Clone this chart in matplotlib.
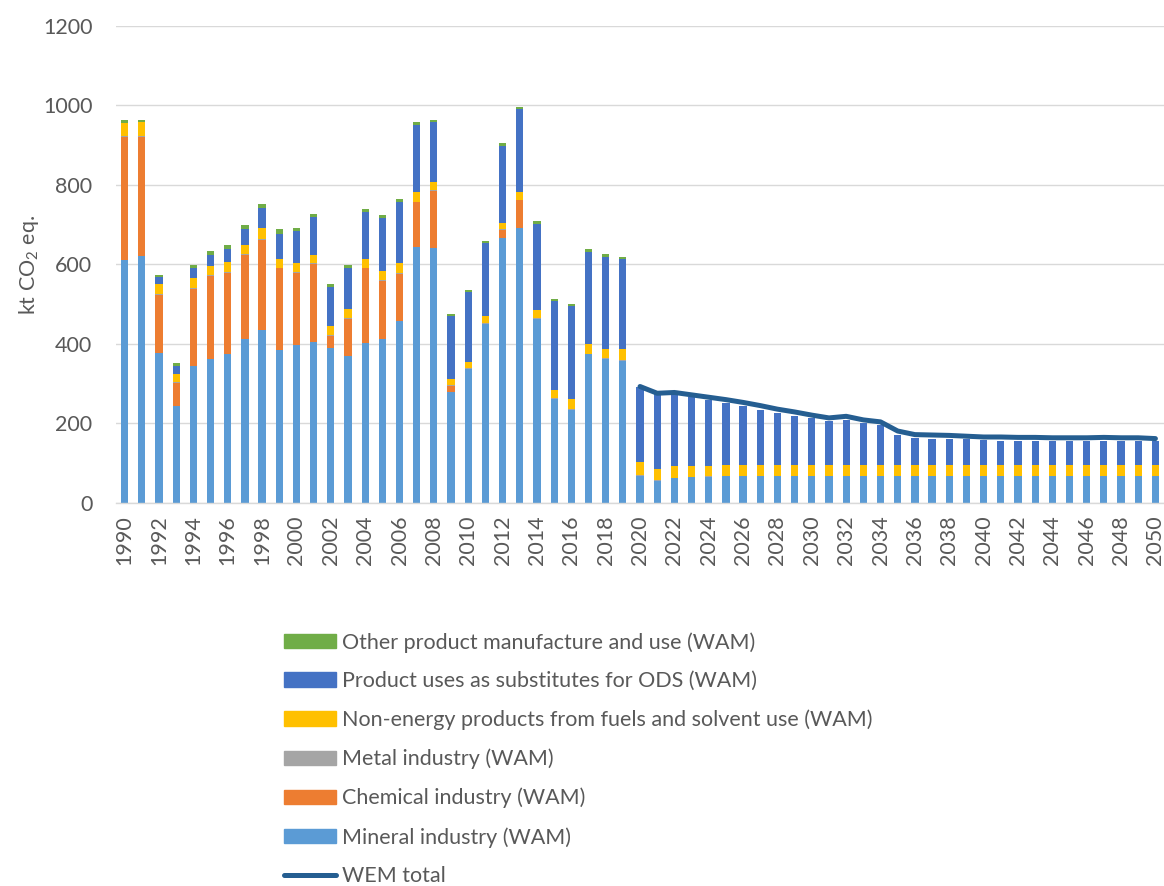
import numpy as np
import matplotlib
matplotlib.use("Agg")
import matplotlib.pyplot as plt
from matplotlib.patches import Patch
from matplotlib.lines import Line2D

plt.rcParams['font.family'] = ['Lato', 'DejaVu Sans']
plt.rcParams['mathtext.fontset'] = 'custom'
plt.rcParams['mathtext.rm'] = 'Lato'

years = np.arange(1990, 2051)

# WAM sub-sector emissions, kt CO2 eq. (1990-2019 inventory, 2020-2050 projection)
mineral = [612, 621, 377, 245, 345, 363, 376, 413, 436, 386, 398, 405, 390, 371, 403,
           412, 459, 644, 642, 279, 337, 451, 667, 693, 463, 262, 235, 374, 362, 357,
           69, 56, 63, 65, 66] + [68] * 26
chemical = [309, 300, 146, 58, 194, 208, 203, 212, 226, 204, 181, 197, 30, 92, 187,
            147, 118, 112, 143, 15, 0, 0, 19, 68, 0, 0, 0, 0, 0, 0] + [0] * 31
metal = [2] * 30 + [1] * 31
non_energy = [34, 36, 25, 20, 26, 23, 24, 23, 28, 23, 23, 20, 23, 22, 22, 22, 24, 24,
              20, 17, 16, 17, 17, 19, 20, 21, 24, 23, 24, 28,
              32, 28, 29, 28, 27] + [27] * 26
ods = [0, 0, 19, 20, 23, 29, 34, 40, 51, 62, 79, 95, 98, 104, 119, 135, 155, 170, 152,
       157, 177, 184, 194, 208, 218, 223, 234, 233, 232, 226,
       190, 188, 178, 172, 164, 155, 147, 139, 131, 124, 117, 109, 113, 105, 99, 76,
       68, 66, 64, 64, 62, 61, 60, 60, 60, 59, 59, 60, 60, 59, 59]
other = [6, 5, 4, 6, 8, 8, 10, 9, 10, 11, 10, 9, 7, 8, 7, 7, 6, 6, 5, 5, 5, 6, 6, 6, 6,
         5, 5, 7, 6, 5] + [0] * 31

wem_years = np.arange(2020, 2051)
wem_total = [293, 276, 278, 272, 266, 260, 253, 245, 236, 229, 221, 214, 218, 209, 204,
             181, 172, 171, 170, 168, 166, 166, 165, 165, 164, 164, 164, 165, 164, 164, 162]

series = [
    ("Mineral industry (WAM)", mineral, "#5B9BD5"),
    ("Chemical industry (WAM)", chemical, "#ED7D31"),
    ("Metal industry (WAM)", metal, "#A5A5A5"),
    ("Non-energy products from fuels and solvent use (WAM)", non_energy, "#FFC000"),
    ("Product uses as substitutes for ODS (WAM)", ods, "#4472C4"),
    ("Other product manufacture and use (WAM)", other, "#70AD47"),
]

txt = "#595959"
fs = 15.5
fig = plt.figure(figsize=(11.64, 8.86), dpi=100)
ax = fig.add_axes([0.0997, 0.4323, 0.9003, 0.5384])

bottom = np.zeros(len(years))
for name, vals, col in series:
    vals = np.array(vals, dtype=float)
    ax.bar(years, vals, width=0.42, bottom=bottom, color=col, zorder=2)
    bottom += vals

ax.plot(wem_years, wem_total, color="#255E91", lw=3.6, solid_capstyle="round", zorder=3)

ax.set_xlim(1989.5, 2050.5)
ax.set_ylim(0, 1200)
ax.set_yticks(range(0, 1201, 200))
ax.set_xticks(range(1990, 2051, 2))
ax.set_xticklabels([str(y) for y in range(1990, 2051, 2)], rotation=90)
ax.tick_params(axis="y", length=0, pad=17, labelsize=fs, labelcolor=txt)
ax.tick_params(axis="x", length=0, pad=9, labelsize=fs, labelcolor=txt)
ax.yaxis.grid(True, color="#D9D9D9", lw=1, zorder=0)
ax.set_axisbelow(True)
for s in ("top", "right", "left"):
    ax.spines[s].set_visible(False)
ax.spines["bottom"].set_color("#D9D9D9")
ax.spines["bottom"].set_linewidth(1)

ax.set_ylabel("kt CO$_2$ eq.", fontsize=fs, color=txt)
ax.yaxis.set_label_coords(-0.072, 0.5)

handles = [Patch(color=col, label=name) for name, _, col in reversed(series)]
handles.append(Line2D([], [], color="#255E91", lw=3.6, solid_capstyle="round", label="WEM total"))
fig.legend(handles=handles, loc="upper left", bbox_to_anchor=(284 / 1164, 1 - 632 / 886),
           frameon=False, fontsize=fs, labelcolor=txt, handlelength=2.42, handleheight=0.65,
           handletextpad=0.28, labelspacing=0.86, borderpad=0, borderaxespad=0)

fig.savefig("out.png", dpi=100)
